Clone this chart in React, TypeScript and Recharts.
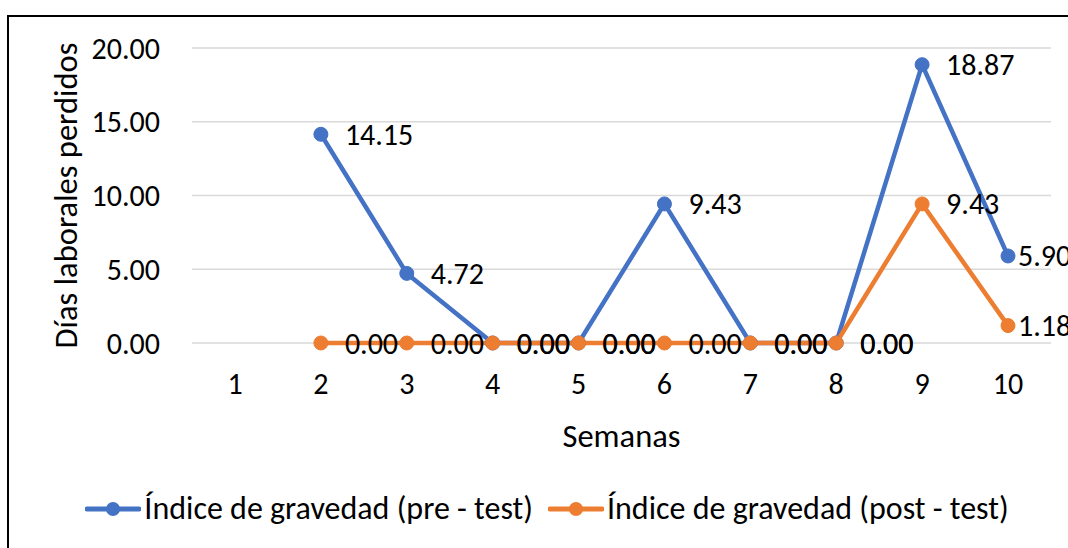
import React from 'react'
import {
  LineChart,
  Line,
  XAxis,
  YAxis,
  CartesianGrid,
  Legend,
  LabelList,
  Label,
} from 'recharts'

// Semanas 1–10, la semana 1 sin datos
const weeks = ['1', '2', '3', '4', '5', '6', '7', '8', '9', '10']
const preTest = [null, 14.15, 4.72, 0, 0, 9.43, 0, 0, 18.87, 5.9]
const postTest = [null, 0, 0, 0, 0, 0, 0, 0, 9.43, 1.18]
const yTicks = [0, 5, 10, 15, 20]

const PRE_NAME = 'Índice de gravedad (pre - test)'
const POST_NAME = 'Índice de gravedad (post - test)'
const BLUE = '#4472C4'
const ORANGE = '#ED7D31'
const FONT = "Calibri, Carlito, 'Open Sans', sans-serif"
const TICK_FS = 30
const TITLE_FS = 32.5
const LEGEND_FS = 32

const data = weeks.map((w, i) => ({ week: w, pre: preTest[i], post: postTest[i] }))

// Etiqueta a la derecha del punto; la última se acerca más (como en Excel)
function PointLabel(props: any) {
  const { x, y, value, index } = props
  if (value == null) return null
  const dx = index === weeks.length - 1 ? 10 : 24
  return (
    <text
      x={Number(x) + dx}
      y={Number(y)}
      dominantBaseline="central"
      textAnchor="start"
      style={{ fontSize: TICK_FS, fill: '#000', fontFamily: FONT }}
    >
      {Number(value).toFixed(2)}
    </text>
  )
}

function LegendContent() {
  const items = [
    { name: PRE_NAME, color: BLUE },
    { name: POST_NAME, color: ORANGE },
  ]
  return (
    <div style={{ display: 'flex', justifyContent: 'center', gap: 15, fontFamily: FONT, fontSize: LEGEND_FS, lineHeight: '40px' }}>
      {items.map((it) => (
        <div key={it.name} style={{ display: 'flex', alignItems: 'center' }}>
          <svg width={56} height={20} style={{ marginRight: 3 }}>
            <line x1={2} y1={10} x2={54} y2={10} stroke={it.color} strokeWidth={5} strokeLinecap="round" />
            <circle cx={28} cy={10} r={7} fill={it.color} />
          </svg>
          <span style={{ color: '#000' }}>{it.name}</span>
        </div>
      ))}
    </div>
  )
}

export default function App() {
  return (
    <div style={{ position: 'fixed', left: 0, top: 0, width: '100vw', height: '100vh', overflow: 'hidden', background: '#fff' }}>
      <div
        style={{
          position: 'absolute',
          left: 7,
          top: 15,
          width: 1120,
          height: 600,
          border: '2px solid #000',
          boxSizing: 'border-box',
        }}
      />
      <div style={{ position: 'absolute', left: 8, top: 8 }}>
        <LineChart width={1060} height={532} data={data} margin={{ top: 40, right: 17, bottom: 97, left: 0 }}>
          <CartesianGrid vertical={false} stroke="#d9d9d9" strokeWidth={1.5} />
          <XAxis
            dataKey="week"
            padding={{ left: 43, right: 43 }}
            axisLine={false}
            tickLine={false}
            tickMargin={24}
            height={100}
            tick={{ fontSize: TICK_FS, fill: '#000', fontFamily: FONT }}
          >
            <Label value="Semanas" position="insideBottom" offset={-4} style={{ fontSize: TITLE_FS, fill: '#000', fontFamily: FONT }} />
          </XAxis>
          <YAxis
            domain={[0, 20]}
            ticks={yTicks}
            width={184}
            axisLine={false}
            tickLine={false}
            tickMargin={26}
            tickFormatter={(v: number) => v.toFixed(2)}
            tick={{ fontSize: TICK_FS, fill: '#000', fontFamily: FONT }}
          >
            <Label
              value="Días laborales perdidos"
              position="center"
              angle={-90}
              dx={-35}
              style={{ fontSize: TITLE_FS, fill: '#000', fontFamily: FONT, textAnchor: 'middle' }}
            />
          </YAxis>
          <Legend
            layout="horizontal"
            verticalAlign="middle"
            content={() => <LegendContent />}
            wrapperStyle={{ top: 481, left: 9, width: 1060 }}
          />
          <Line
            name={PRE_NAME}
            dataKey="pre"
            stroke={BLUE}
            strokeWidth={4.5}
            dot={{ r: 7, fill: BLUE, stroke: BLUE, strokeWidth: 1 }}
            isAnimationActive={false}
          >
            <LabelList dataKey="pre" content={PointLabel} />
          </Line>
          <Line
            name={POST_NAME}
            dataKey="post"
            stroke={ORANGE}
            strokeWidth={4.5}
            dot={{ r: 7, fill: ORANGE, stroke: ORANGE, strokeWidth: 1 }}
            isAnimationActive={false}
          >
            <LabelList dataKey="post" content={PointLabel} />
          </Line>
        </LineChart>
      </div>
    </div>
  )
}
